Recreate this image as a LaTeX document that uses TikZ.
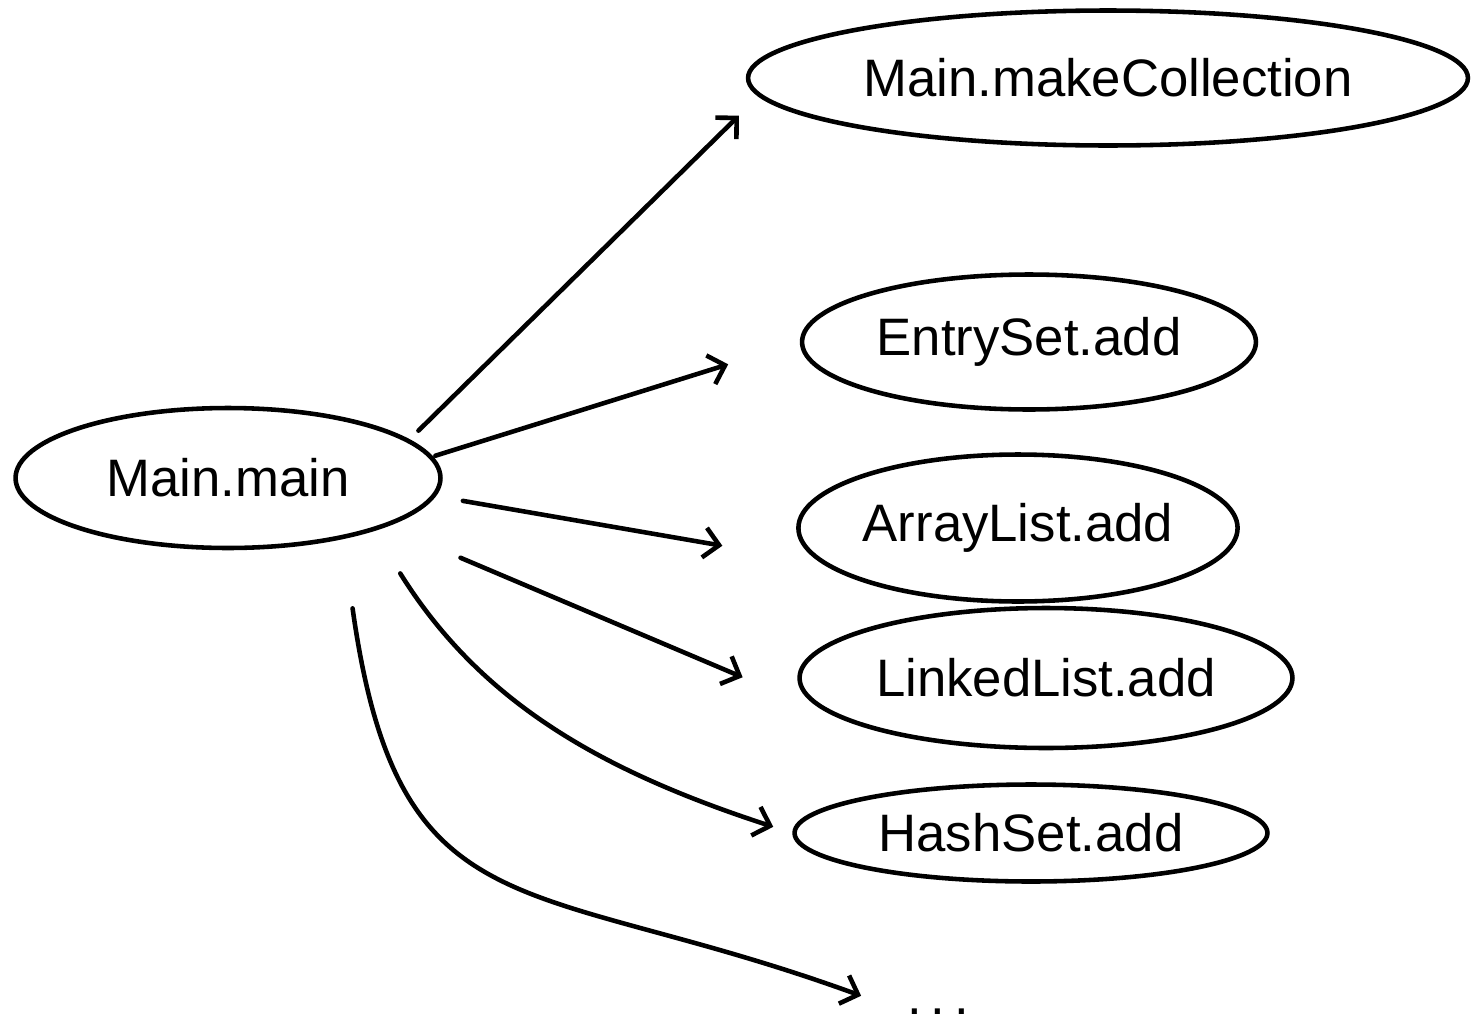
\documentclass[tikz,border=0pt]{standalone}
\usepackage{fontspec}
\setmainfont{Liberation Sans}
\usetikzlibrary{arrows.meta,shapes.geometric}

\begin{document}
\begin{tikzpicture}[
  x=0.02cm, y=-0.02cm,
  call/.style={draw, ellipse, line width=2.6pt, inner sep=0pt, font=\fontsize{30}{36}\selectfont},
  arr/.style={-{Straight Barb[length=3mm,width=6mm]}, line width=2.6pt, line cap=round}
]
\useasboundingbox (0,0) rectangle (1474,1028);
\node[call, minimum width=8.5cm, minimum height=2.8cm] (main) at (228,478) {Main.main};
\node[call, minimum width=14.4cm, minimum height=2.7cm] (coll) at (1108,78) {Main.makeCollection};
\node[call, minimum width=9.08cm, minimum height=2.7cm] (entry) at (1029,342) {EntrySet.add};
\node[call, minimum width=8.6cm, minimum height=2.94cm] (array) at (1018,528) {ArrayList.add};
\node[call, minimum width=9.86cm, minimum height=2.8cm] (linked) at (1046,678) {LinkedList.add};
\node[call, minimum width=9.46cm, minimum height=1.94cm] (hash) at (1031,833) {HashSet.add};
\node[anchor=base, inner sep=2pt, font=\fontsize{30}{36}\selectfont] (dots) at (938,1014) {.\,.\,.};

\draw[arr, shorten <=0.25cm, shorten >=0.55cm] (main.12) -- (coll.183);
\draw[arr, shorten <=0.05cm, shorten >=1.5cm] (main.6) -- (entry.west);
\draw[arr, shorten <=0.55cm, shorten >=2cm] (main.-5) -- (array.190);
\draw[arr, shorten <=1.6cm, shorten >=2.1cm] (main.-17) -- (linked.191);
\draw[arr, shorten <=1cm, shorten >=0.4cm] (main.-20) to[out=-58, in=162] (hash.west);
\draw[arr, shorten <=1.4cm, shorten >=0.9cm] (main.-28) to[out=-82, in=160, looseness=1.4] (dots.west);
\end{tikzpicture}
\end{document}
